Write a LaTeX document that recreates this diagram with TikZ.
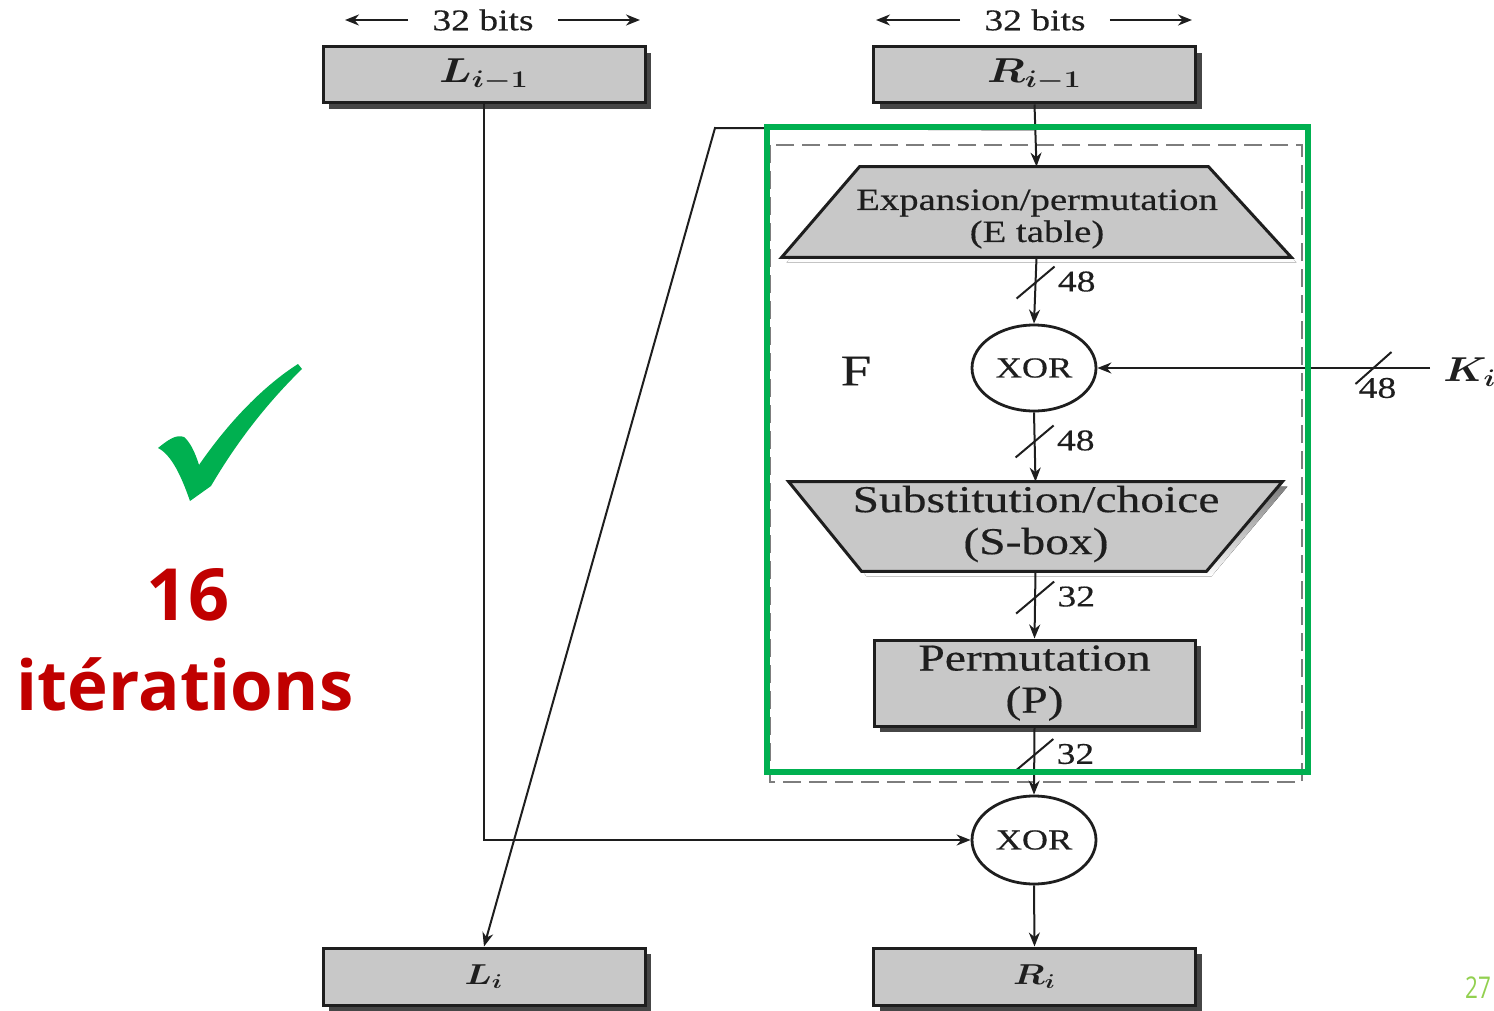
\documentclass[tikz,border=0pt]{standalone}
\usepackage{fontspec}
\usepackage{graphicx}
\usetikzlibrary{arrows.meta,shadows,calc,shapes.geometric}
\newfontfamily\dfont{Liberation Serif}[FakeStretch=1.25,FakeBold=0.4]
\newfontfamily\hfont{Open Sans}
\newfontfamily\pgfont{Open Sans}[FakeStretch=0.75]
\definecolor{boxgray}{RGB}{200,200,200}
\definecolor{shade}{RGB}{70,70,70}
\definecolor{ink}{RGB}{30,30,30}
\definecolor{framegreen}{RGB}{0,176,80}
\definecolor{darkred}{RGB}{192,0,0}
\definecolor{pagegreen}{RGB}{146,208,80}
\definecolor{dashgray}{RGB}{125,125,125}

\begin{document}
\begin{tikzpicture}[x=0.5pt,y=-0.5pt,
  every node/.style={text=ink},
  regbox/.style={draw=ink, line width=1.5pt, fill=boxgray, inner sep=0pt,
    minimum width=161pt, minimum height=28pt,
    general shadow={fill=shade, shadow xshift=3pt, shadow yshift=-3pt}},
  xorc/.style={draw=ink, ellipse, line width=1.4pt, fill=white, inner sep=0pt,
    minimum width=62pt, minimum height=43pt, font=\dfont\fontsize{14.5}{16}\selectfont},
  conn/.style={draw=ink, line width=1pt, -{Stealth[length=7pt,width=5.5pt]}},
  tick/.style={draw=ink, line width=1pt},
  bits/.style={font=\dfont\fontsize{15}{17}\selectfont, inner ysep=1pt, inner xsep=12pt},
  lbl/.style={font=\dfont\fontsize{15}{17}\selectfont, inner sep=0pt, anchor=west},
  trap/.style={draw=ink, line width=1.5pt, fill=boxgray, line join=miter},
  hole/.style={inner sep=0pt},
  reglabel/.style={font=\boldmath\fontsize{#1}{#1}\selectfont},
]
\useasboundingbox (0,0) rectangle (1494,1011);

% boundary of the round function F
\draw[dashgray, line width=1.2pt, dash pattern=on 9pt off 4pt] (770,145) rectangle (1302,782);

% width labels
\node[bits] (b1) at (483,20) {32 bits};
\node[bits] (b2) at (1035,20) {32 bits};
\coordinate (b1l) at (345,20);
\coordinate (b1r) at (640,20);
\coordinate (b2l) at (876,20);
\coordinate (b2r) at (1192,20);
\draw[conn] (b1.west) -- (b1l);
\draw[conn] (b1.east) -- (b1r);
\draw[conn] (b2.west) -- (b2l);
\draw[conn] (b2.east) -- (b2r);

% half-block registers
\node[regbox, reglabel=17] (Lim1) at (484,75) {\scalebox{1.25}[1]{$L_{i-1}$}};
\node[regbox, reglabel=17] (Rim1) at (1034.5,75) {\scalebox{1.25}[1]{$R_{i-1}$}};
\node[regbox, reglabel=14, minimum height=28.5pt] (Li) at (484,976.5) {\scalebox{1.25}[1]{$L_i$}};
\node[regbox, reglabel=14, minimum height=28.5pt] (Ri) at (1034.5,976.5) {\scalebox{1.25}[1]{$R_i$}};

% expansion / permutation
\node[hole, minimum width=254.5pt, minimum height=45pt] (E) at (1036.5,212) {};
\fill[shade] ($(E.south west)+(5,5)$) -- ($(E.south east)+(5,5)$) -- ($(E.north east)+(-78,5)$) -- ($(E.north west)+(83,5)$) -- cycle;
\draw[trap] (E.south west) -- (E.south east) -- ($(E.north east)+(-83,0)$) -- ($(E.north west)+(78,0)$) -- cycle;
\node[align=center, font=\dfont\fontsize{15.5}{16}\selectfont] (Etxt) at (1037,219) {Expansion/permutation\\(E table)};

% substitution boxes
\node[hole, minimum width=246.5pt, minimum height=44.5pt] (S) at (1035.5,526.5) {};
\fill[shade] ($(S.north west)+(5,5)$) -- ($(S.north east)+(5,5)$) -- ($(S.south east)+(-71,5)$) -- ($(S.south west)+(78,5)$) -- cycle;
\draw[trap] (S.north west) -- (S.north east) -- ($(S.south east)+(-76,0)$) -- ($(S.south west)+(73,0)$) -- cycle;
\node[align=center, font=\dfont\fontsize{19}{21}\selectfont] (Stxt) at (1036,524) {Substitution/choice\\(S-box)};

% permutation
\node[regbox, minimum width=160.5pt, minimum height=43pt, align=center,
      font=\dfont\fontsize{19}{21}\selectfont] (P) at (1034.5,683) {Permutation\\(P)};

% XOR gates
\node[xorc] (x1) at (1034,368) {XOR};
\node[xorc, minimum height=44pt] (x2) at (1034,840) {XOR};

% labels
\node[font=\dfont\fontsize{22}{24}\selectfont] (F) at (856,371) {F};
\node[font=\boldmath\fontsize{17}{18}\selectfont] (K) at (1470,372) {\scalebox{1.2}[1]{$K_i$}};
\coordinate (kin) at (1430,368);

% data paths
\draw[conn] (Rim1.south) -- (E.north);
\coordinate (br) at ($(Rim1.south)+(0,25)$);
\coordinate (bend) at (715,128);
\draw[conn] (br) -- (bend) -- (Li.north);
\draw[conn] (Lim1.south) |- (x2.west);
\draw[conn] (E.south) -- coordinate[pos=0.38] (t1) (x1.north);
\draw[conn] (x1.south) -- coordinate[pos=0.42] (t2) (S.north);
\draw[conn] (S.south) -- coordinate[pos=0.39] (t3) (P.north);
\draw[conn] (P.south) -- coordinate[pos=0.41] (t4) (x2.north);
\draw[conn] (x2.south) -- (Ri.north);
\draw[conn] (kin) -- coordinate[pos=0.17] (tk) (x1.east);

% bus widths
\foreach \t/\w in {t1/48, t2/48, t3/32, t4/32}{
  \draw[tick] ($(\t)+(-19,16)$) -- ($(\t)+(19,-16)$);
  \node[lbl] at ($(\t)+(22,-1)$) {\w};
}
\draw[tick] ($(tk)+(-18,16)$) -- ($(tk)+(18,-16)$);
\node[lbl, anchor=center] at ($(tk)+(4,20)$) {48};

% highlight frame around F
\draw[framegreen, line width=3pt] (767,127) rectangle (1308,772);

% round count
\fill[framegreen] (158,448) .. controls (168,440) and (176,434) .. (184,437)
  .. controls (190,442) and (195,452) .. (199,465)
  .. controls (230,420) and (265,385) .. (298,364) -- (302,369)
  .. controls (265,405) and (235,445) .. (211,486) -- (190,501)
  .. controls (182,478) and (172,455) .. (158,448) -- cycle;
\node[font=\hfont\bfseries\fontsize{36}{40}\selectfont, text=darkred, anchor=base] (n16) at (188,620) {16};
\node[font=\hfont\bfseries\fontsize{34.5}{40}\selectfont, text=darkred, anchor=base] (iter) at (185,710) {itérations};

% page number
\node[font=\pgfont\fontsize{15}{17}\selectfont, text=pagegreen] (pg) at (1478,988) {27};
\end{tikzpicture}
\end{document}
